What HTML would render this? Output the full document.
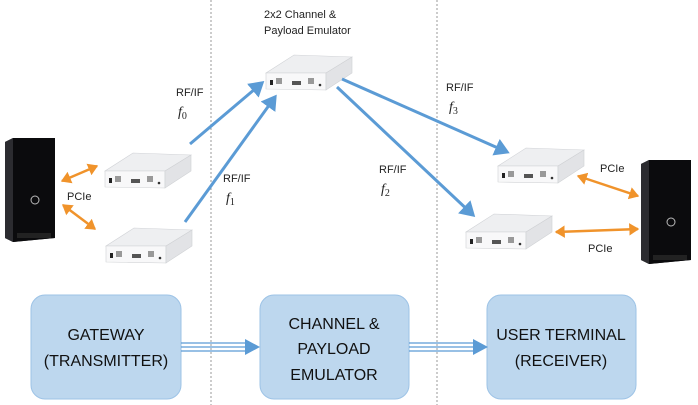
<!DOCTYPE html>
<html><head><style>
body{margin:0;background:#fff;}
svg{display:block;font-family:"Liberation Sans",sans-serif;}
</style></head><body>
<svg width="698" height="405" viewBox="0 0 698 405">
<defs>
<marker id="ab" markerWidth="6" markerHeight="6" refX="4" refY="3" orient="auto" markerUnits="strokeWidth"><path d="M0,0 L5,3 L0,6z" fill="#5b9bd5"/></marker>
<marker id="ao" markerWidth="5" markerHeight="5" refX="3.5" refY="2.5" orient="auto-start-reverse" markerUnits="strokeWidth"><path d="M0,0 L4,2.5 L0,5z" fill="#f0932b"/></marker>
<g id="dev">
<polygon points="0,18 60,18 86,2 28,0" fill="#eeeff1" stroke="#d0d2d6" stroke-width="0.6"/>
<polygon points="0,18 60,18 60,35 0,34" fill="#f8f8f9" stroke="#cfd1d4" stroke-width="0.6"/>
<polygon points="60,18 86,2 86,18 60,35" fill="#e2e3e6" stroke="#cfd1d4" stroke-width="0.6"/>
<rect x="4" y="25" width="3" height="5" fill="#222"/>
<rect x="10" y="23" width="6" height="6" fill="#999"/>
<rect x="26" y="26" width="9" height="4" fill="#555"/>
<rect x="42" y="23" width="6" height="6" fill="#999"/>
<circle cx="54" cy="30" r="1.3" fill="#333"/>
</g>
<g id="pc">
<polygon points="0,4 8,0 50,0 50,100 8,104 0,100" fill="#1a1a1c"/>
<polygon points="8,0 50,0 50,100 8,104" fill="#0b0b0d"/>
<polygon points="0,4 8,0 8,104 0,100" fill="#2c2c30"/>
<circle cx="30" cy="62" r="4" fill="none" stroke="#bbb" stroke-width="1"/>
<rect x="12" y="95" width="34" height="5" fill="#222"/>
</g>
</defs>
<line x1="211" y1="0" x2="211" y2="405" stroke="#999" stroke-dasharray="2,2" stroke-width="1"/>
<line x1="437" y1="0" x2="437" y2="405" stroke="#999" stroke-dasharray="2,2" stroke-width="1"/>

<text x="264" y="18" font-size="11" fill="#222">2x2 Channel &amp;</text>
<text x="264" y="34" font-size="11" fill="#222">Payload Emulator</text>
<use href="#dev" x="266" y="55"/>
<use href="#dev" x="105" y="153"/>
<use href="#dev" x="106" y="228"/>
<use href="#dev" x="498" y="148"/>
<use href="#dev" x="466" y="214"/>
<use href="#pc" x="5" y="138"/>
<use href="#pc" x="641" y="160"/>

<g stroke="#5b9bd5" stroke-width="3" fill="none">
<line x1="190" y1="144" x2="262" y2="83" marker-end="url(#ab)"/>
<line x1="185" y1="222" x2="275" y2="97" marker-end="url(#ab)"/>
<line x1="342" y1="79" x2="507" y2="152" marker-end="url(#ab)"/>
<line x1="337" y1="87" x2="473" y2="215" marker-end="url(#ab)"/>
</g>
<g stroke="#f0932b" stroke-width="2.5" fill="none">
<line x1="62" y1="181" x2="97" y2="166" marker-start="url(#ao)" marker-end="url(#ao)"/>
<line x1="63" y1="205" x2="95" y2="229" marker-start="url(#ao)" marker-end="url(#ao)"/>
<line x1="578" y1="176" x2="638" y2="196" marker-start="url(#ao)" marker-end="url(#ao)"/>
<line x1="556" y1="232" x2="638" y2="229" marker-start="url(#ao)" marker-end="url(#ao)"/>
</g>

<g font-size="11" fill="#222">
<text x="176" y="96">RF/IF</text>
<text x="178" y="116" font-family="Liberation Serif,serif" font-style="italic" font-size="14">f<tspan font-size="10" dy="3" font-style="normal">0</tspan></text>
<text x="223" y="182">RF/IF</text>
<text x="226" y="202" font-family="Liberation Serif,serif" font-style="italic" font-size="14">f<tspan font-size="10" dy="3" font-style="normal">1</tspan></text>
<text x="379" y="173">RF/IF</text>
<text x="381" y="193" font-family="Liberation Serif,serif" font-style="italic" font-size="14">f<tspan font-size="10" dy="3" font-style="normal">2</tspan></text>
<text x="446" y="91">RF/IF</text>
<text x="449" y="111" font-family="Liberation Serif,serif" font-style="italic" font-size="14">f<tspan font-size="10" dy="3" font-style="normal">3</tspan></text>
<text x="67" y="200">PCIe</text>
<text x="600" y="172">PCIe</text>
<text x="588" y="252">PCIe</text>
</g>

<g fill="#bdd7ee" stroke="#9dc3e6" stroke-width="1">
<rect x="31" y="295" width="150" height="104" rx="14"/>
<rect x="260" y="295" width="149" height="104" rx="14"/>
<rect x="487" y="295" width="149" height="104" rx="14"/>
</g>
<g stroke="#5b9bd5" stroke-width="1.2">
<line x1="181" y1="343" x2="246" y2="343"/><line x1="181" y1="347" x2="246" y2="347"/><line x1="181" y1="351" x2="246" y2="351"/>
<line x1="409" y1="343" x2="474" y2="343"/><line x1="409" y1="347" x2="474" y2="347"/><line x1="409" y1="351" x2="474" y2="351"/>
</g>
<polygon points="245,339 260,347 245,355" fill="#5b9bd5"/>
<polygon points="473,339 488,347 473,355" fill="#5b9bd5"/>
<g font-size="16" fill="#111" text-anchor="middle" font-family="Liberation Sans Narrow,Liberation Sans,sans-serif">
<text x="106" y="340">GATEWAY</text>
<text x="106" y="366">(TRANSMITTER)</text>
<text x="334" y="329">CHANNEL &amp;</text>
<text x="334" y="354">PAYLOAD</text>
<text x="334" y="380">EMULATOR</text>
<text x="561" y="340">USER TERMINAL</text>
<text x="561" y="366">(RECEIVER)</text>
</g>
</svg>
</body></html>
